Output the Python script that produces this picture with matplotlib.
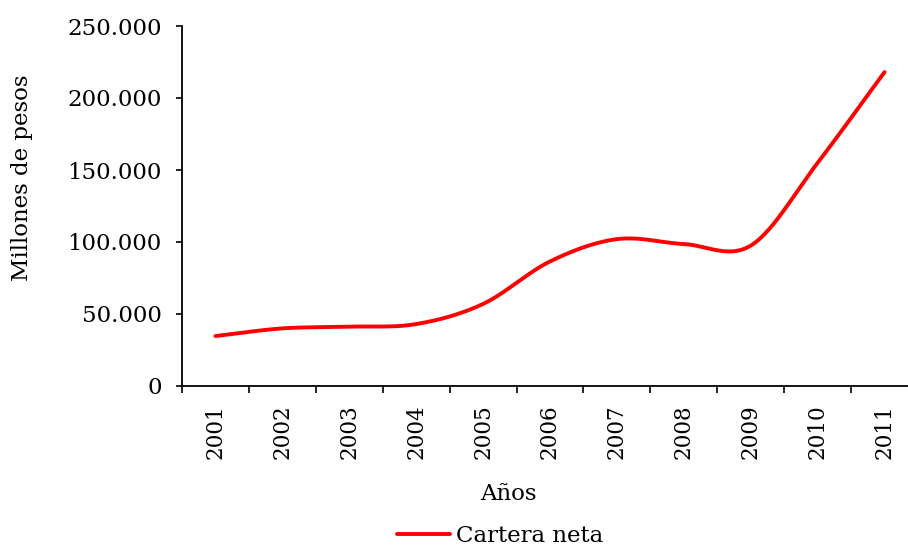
import numpy as np
import matplotlib.pyplot as plt
from matplotlib.ticker import FuncFormatter

years = ['2001', '2002', '2003', '2004', '2005', '2006', '2007', '2008', '2009', '2010', '2011']
cartera = [34700, 40000, 41200, 43000, 57000, 86500, 102000, 98600, 97500, 155000, 218000]

plt.rcParams['font.family'] = ['DejaVu Serif']


def smooth(x, y, n=30):
    # curva suavizada tipo Catmull-Rom (como la linea suavizada de Excel)
    px = np.concatenate([[2 * x[0] - x[1]], x, [2 * x[-1] - x[-2]]])
    py = np.concatenate([[2 * y[0] - y[1]], y, [2 * y[-1] - y[-2]]])
    xs, ys = [], []
    t = np.linspace(0, 1, n)
    for i in range(1, len(px) - 2):
        for p, out in ((px, xs), (py, ys)):
            p0, p1, p2, p3 = p[i - 1], p[i], p[i + 1], p[i + 2]
            out.extend(0.5 * ((2 * p1) + (-p0 + p2) * t
                              + (2 * p0 - 5 * p1 + 4 * p2 - p3) * t ** 2
                              + (-p0 + 3 * p1 - 3 * p2 + p3) * t ** 3))
    return np.array(xs), np.array(ys)


x = np.arange(1, len(years) + 1, dtype=float)
y = np.array(cartera, dtype=float)
sx, sy = smooth(x, y)

fig = plt.figure(figsize=(9.08, 5.46), dpi=100)
ax = fig.add_axes([182 / 908, 1 - 386 / 546, 736 / 908, 360 / 546])
ax.plot(sx, sy, color='#ff0000', lw=2.8, solid_capstyle='round', label='Cartera neta', clip_on=False)

ax.set_xlim(0.5, len(years) + 0.5)
ax.set_ylim(0, 250000)
ax.set_yticks(np.arange(0, 250001, 50000))
ax.yaxis.set_major_formatter(FuncFormatter(lambda v, p: f'{int(v):,}'.replace(',', '.')))
ax.set_xticks(np.arange(0.5, len(years) + 0.6, 1))
ax.set_xticklabels([])
ax.set_xticks(x, minor=True)
ax.set_xticklabels(years, minor=True, rotation=90)
ax.tick_params(axis='x', which='major', length=5, width=1.2, direction='out')
ax.tick_params(axis='x', which='minor', length=0, pad=13, labelsize=15.5)
ax.tick_params(axis='y', length=4.5, width=1.2, direction='out', labelsize=16.5, pad=10)

for s in ['top', 'right']:
    ax.spines[s].set_visible(False)
for s in ['left', 'bottom']:
    ax.spines[s].set_linewidth(1.3)

fig.text(22 / 908, 1 - 178 / 546, 'Millones de pesos', rotation=90, ha='center', va='center', fontsize=16.5)
fig.text(508 / 908, 1 - 494 / 546, 'Años', ha='center', va='center', fontsize=16.5)

fig.legend(loc='center', bbox_to_anchor=(500 / 908, 1 - 536 / 546), frameon=False,
           fontsize=16.5, handlelength=2.3, handletextpad=0.25, borderpad=0)

fig.savefig('out.png', dpi=100)
